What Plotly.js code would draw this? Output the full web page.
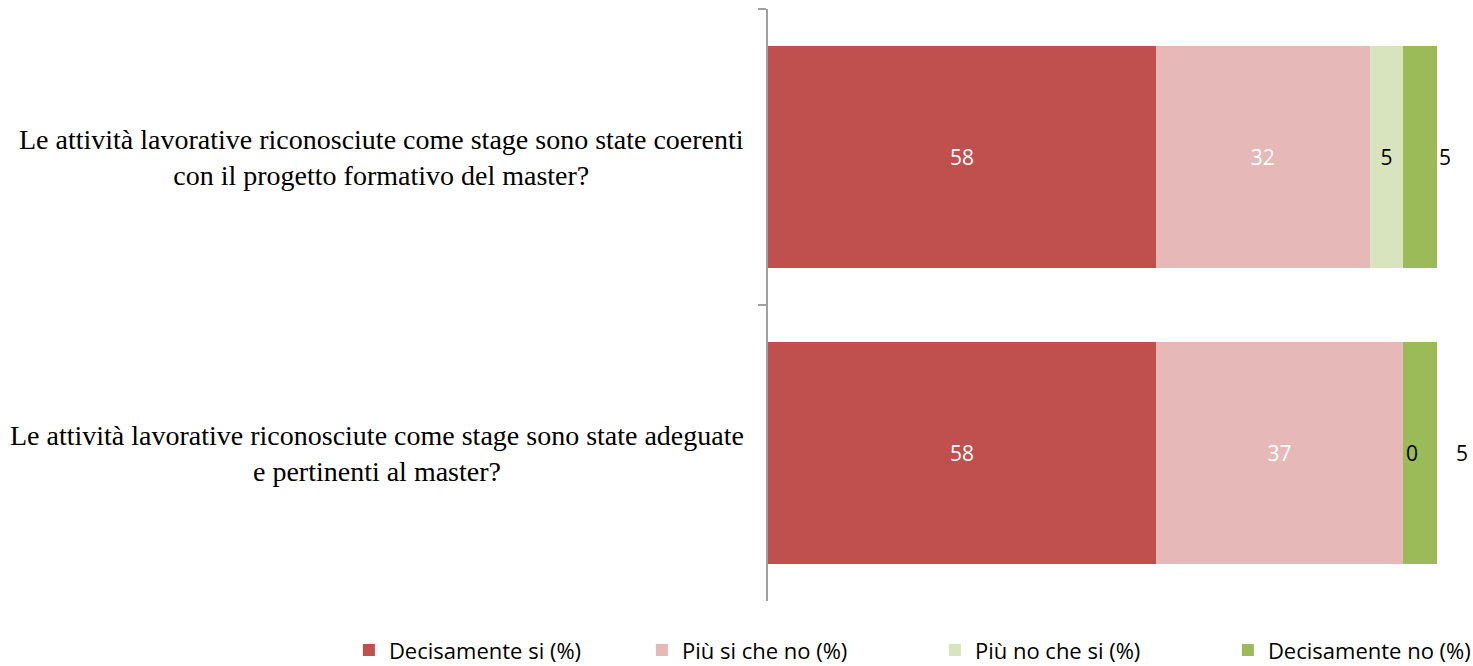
<!DOCTYPE html>
<html>
<head>
<meta charset="utf-8">
<script src="https://cdn.plot.ly/plotly-3.0.1.min.js"></script>
<style>html,body{margin:0;padding:0;background:#fff;}#chart{width:1473px;height:666px;}</style>
</head>
<body>
<div id="chart"></div>
<script>
var categories = [
  "Le attività lavorative riconosciute come stage sono state coerenti<br>con il progetto formativo del master?",
  "Le attività lavorative riconosciute come stage sono state adeguate<br>e pertinenti al master?"
];
var seriesNames = ["Decisamente si (%)", "Più si che no (%)", "Più no che si (%)", "Decisamente no (%)"];
var decisamenteSi = [58, 58];
var piuSiCheNo = [32, 37];
var piuNoCheSi = [5, 0];
var decisamenteNo = [5, 5];

var seriesValues = [decisamenteSi, piuSiCheNo, piuNoCheSi, decisamenteNo];
var colors = ["#C0504D", "#E6B9B8", "#D7E4BD", "#9BBB59"];
var textColors = ["#FFFFFF", "#FFFFFF", "#000000", "#000000"];
var labelFont = "Open Sans, sans-serif";

var traces = seriesValues.map(function (vals, i) {
  var last = i === seriesValues.length - 1;
  return {
    type: "bar",
    orientation: "h",
    name: seriesNames[i],
    y: categories,
    x: vals,
    marker: { color: colors[i], line: { width: 0 } },
    text: last ? vals.map(function(){return "";}) : vals.map(function (v) { return v > 0 ? String(v) : ""; }),
    textposition: "inside",
    insidetextanchor: "middle",
    textangle: 0,
    constraintext: "none",
    textfont: { family: labelFont, size: 21, color: textColors[i] },
    hoverinfo: "x+name"
  };
});

var annotations = [];
// category labels (centered multi-line)
categories.forEach(function (c) {
  annotations.push({
    xref: "paper", yref: "y", x: 0, y: c, xanchor: "right", yanchor: "middle",
    xshift: -22, text: c, showarrow: false, align: "center",
    font: { family: "Liberation Serif, Times New Roman, serif", size: 28, color: "#000" }
  });
});
// zero-value labels and outside labels for last series
categories.forEach(function (c, j) {
  var cum = 0;
  for (var i = 0; i < seriesValues.length; i++) {
    var v = seriesValues[i][j];
    if (v === 0 && i < seriesValues.length - 1) {
      annotations.push({
        xref: "x", yref: "y", x: cum, y: c, xanchor: "left", yanchor: "middle",
        xshift: 1, text: String(v), showarrow: false,
        font: { family: labelFont, size: 21, color: textColors[i] }
      });
    }
    cum += v;
  }
  var prevZero = seriesValues[seriesValues.length - 2][j] === 0;
  annotations.push({
    xref: "x", yref: "y", x: cum, y: c, xanchor: "left", yanchor: "middle",
    xshift: prevZero ? 17 : 0, text: String(decisamenteNo[j]), showarrow: false,
    font: { family: labelFont, size: 21, color: "#000" }
  });
});

var layout = {
  width: 1473, height: 666,
  margin: { l: 768, r: 3, t: 9, b: 65, pad: 0, autoexpand: false },
  barmode: "stack",
  bargap: 0.253,
  paper_bgcolor: "#fff", plot_bgcolor: "#fff",
  showlegend: true,
  legend: {
    orientation: "h", xref: "paper", yref: "paper",
    x: -0.597, xanchor: "left", y: -0.083, yanchor: "middle",
    font: { family: labelFont, size: 22, color: "#000" },
    traceorder: "normal", itemclick: false, entrywidth: 248, entrywidthmode: "pixels"
  },
  xaxis: {
    range: [0, 105], showgrid: false, zeroline: false, showline: false,
    showticklabels: false, ticks: "", fixedrange: true
  },
  yaxis: {
    type: "category", autorange: "reversed", showgrid: false, zeroline: false,
    showline: true, linecolor: "#A0A0A0", linewidth: 2,
    ticks: "outside", tickson: "boundaries", ticklen: 8, tickcolor: "#A0A0A0", tickwidth: 2,
    showticklabels: false, fixedrange: true
  },
  annotations: annotations
};

Plotly.newPlot("chart", traces, layout, { displayModeBar: false, staticPlot: true });
</script>
</body>
</html>
